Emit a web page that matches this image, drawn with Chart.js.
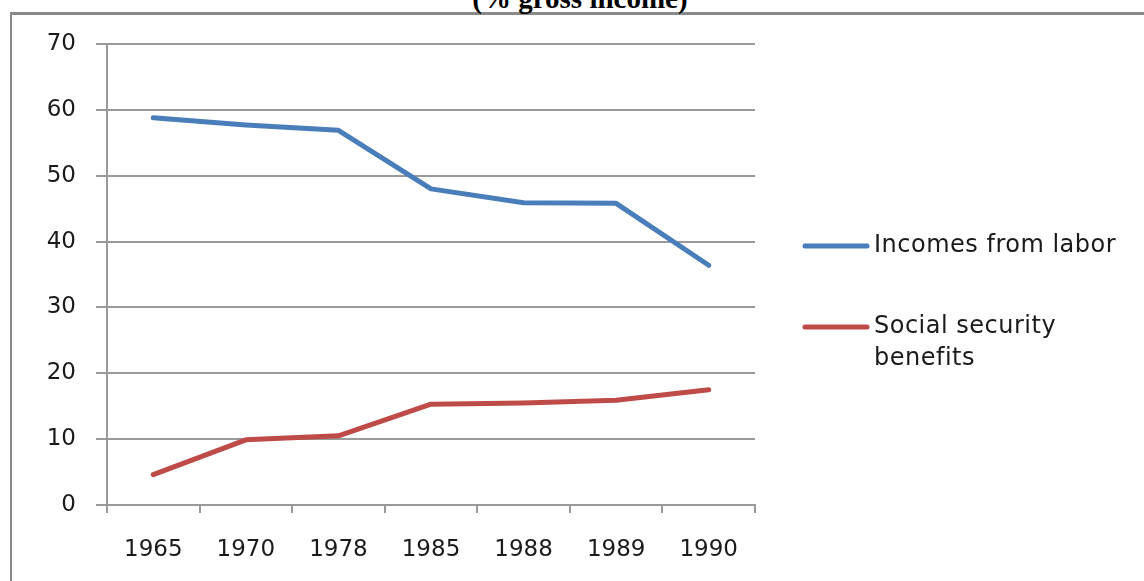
<!DOCTYPE html>
<html>
<head>
<meta charset="utf-8">
<script src="https://cdn.jsdelivr.net/npm/chart.js@4/dist/chart.umd.min.js"></script>
<style>
  html, body { margin: 0; padding: 0; background: #fff; }
  body { width: 1144px; height: 581px; position: relative; overflow: hidden; }
  .frame {
    position: absolute; left: 10px; top: 12px; width: 1200px; height: 600px;
    border-left: 2px solid #8a8a8a; border-top: 3px solid #8a8a8a;
  }
  .title {
    position: absolute; left: 0; width: 1160px; top: -18px; text-align: center;
    font: bold 29px "Liberation Serif", "Times New Roman", serif; color: #000;
  }
  #wrap { position: absolute; left: 0; top: 0; width: 1144px; height: 581px; }
</style>
</head>
<body>
<div class="frame"></div>
<div class="title">(% gross income)</div>
<div id="wrap"><canvas class="my-chart" width="1144" height="581"></canvas></div>
<script>
const years = ["1965", "1970", "1978", "1985", "1988", "1989", "1990"];
const laborIncome = [58.8, 57.7, 56.9, 48.0, 45.9, 45.8, 36.4];
const socialBenefits = [4.6, 9.9, 10.5, 15.3, 15.5, 15.9, 17.5];
const yTicks = [0, 10, 20, 30, 40, 50, 60, 70];

const myChart = document.querySelector(".my-chart");
const axisFont = { family: "DejaVu Sans", size: 23 };
const gridGrey = "#9a9a9a";

// legend drawn to the right of the plot, one entry per dataset
const sideLegend = {
  id: "sideLegend",
  afterDraw(chart) {
    const ctx = chart.ctx;
    const rows = [
      { y: 246, lines: ["Incomes from labor"] },
      { y: 327, lines: ["Social security", "benefits"] },
    ];
    ctx.save();
    chart.data.datasets.forEach((ds, i) => {
      const row = rows[i];
      ctx.strokeStyle = ds.borderColor;
      ctx.lineWidth = 5;
      ctx.lineCap = "round";
      ctx.beginPath();
      ctx.moveTo(805, row.y);
      ctx.lineTo(867, row.y);
      ctx.stroke();
      ctx.fillStyle = "#1a1a1a";
      ctx.font = "24px 'DejaVu Sans'";
      ctx.letterSpacing = "0.5px";
      ctx.textBaseline = "middle";
      row.lines.forEach((t, j) => ctx.fillText(t, 874, row.y + j * 32));
    });
    ctx.restore();
  },
};

new Chart(myChart, {
  type: "line",
  data: {
    labels: years,
    datasets: [
      {
        label: "Incomes from labor",
        data: laborIncome,
        borderColor: "#4a7ebb",
        borderWidth: 5,
        pointRadius: 0,
        borderCapStyle: "round",
        borderJoinStyle: "round",
      },
      {
        label: "Social security benefits",
        data: socialBenefits,
        borderColor: "#be4b48",
        borderWidth: 5,
        pointRadius: 0,
        borderCapStyle: "round",
        borderJoinStyle: "round",
      },
    ],
  },
  options: {
    responsive: false,
    animation: false,
    devicePixelRatio: 1,
    layout: { padding: { top: 44, right: 389, bottom: 0, left: 0 } },
    plugins: {
      legend: { display: false },
      tooltip: { enabled: false },
    },
    scales: {
      x: {
        offset: true,
        grid: {
          offset: true,
          drawOnChartArea: false,
          drawTicks: true,
          tickLength: 8,
          color: gridGrey,
          lineWidth: 2,
        },
        border: { color: gridGrey, width: 2 },
        ticks: { color: "#1a1a1a", font: axisFont, padding: 23, maxRotation: 0 },
        afterFit: (scale) => { scale.height = 76; },
      },
      y: {
        min: 0,
        max: 70,
        afterBuildTicks: (scale) => { scale.ticks = yTicks.map((v) => ({ value: v })); },
        grid: { color: gridGrey, lineWidth: 2, tickLength: 11 },
        border: { color: gridGrey, width: 2 },
        ticks: { color: "#1a1a1a", font: axisFont, padding: 20 },
        afterFit: (scale) => { scale.width = 107; },
      },
    },
  },
  plugins: [sideLegend],
});
</script>
</body>
</html>
